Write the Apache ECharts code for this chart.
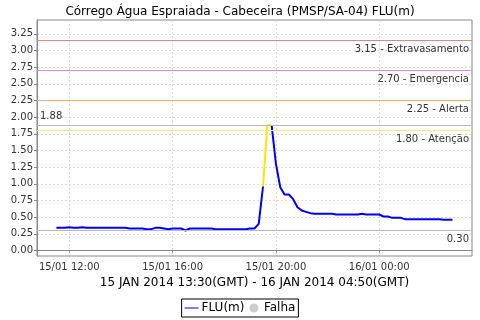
<!DOCTYPE html>
<html><head><meta charset="utf-8">
<script src="https://cdn.jsdelivr.net/npm/echarts@6/dist/echarts.min.js"></script>
<style>html,body{margin:0;padding:0;background:#fff}#c{width:480px;height:320px}</style>
</head><body><div id="c"></div>
<script>
const titleText = 'Córrego Água Espraiada - Cabeceira (PMSP/SA-04) FLU(m)';
const xAxisName = '15 JAN 2014 13:30(GMT) - 16 JAN 2014 04:50(GMT)';
const times = ['15/01 11:30','15/01 11:40','15/01 11:50','15/01 12:00','15/01 12:10','15/01 12:20','15/01 12:30','15/01 12:40','15/01 12:50','15/01 13:00','15/01 13:10','15/01 13:20','15/01 13:30','15/01 13:40','15/01 13:50','15/01 14:00','15/01 14:10','15/01 14:20','15/01 14:30','15/01 14:40','15/01 14:50','15/01 15:00','15/01 15:10','15/01 15:20','15/01 15:30','15/01 15:40','15/01 15:50','15/01 16:00','15/01 16:10','15/01 16:20','15/01 16:30','15/01 16:40','15/01 16:50','15/01 17:00','15/01 17:10','15/01 17:20','15/01 17:30','15/01 17:40','15/01 17:50','15/01 18:00','15/01 18:10','15/01 18:20','15/01 18:30','15/01 18:40','15/01 18:50','15/01 19:00','15/01 19:10','15/01 19:20','15/01 19:30','15/01 19:40','15/01 19:50','15/01 20:00','15/01 20:10','15/01 20:20','15/01 20:30','15/01 20:40','15/01 20:50','15/01 21:00','15/01 21:10','15/01 21:20','15/01 21:30','15/01 21:40','15/01 21:50','15/01 22:00','15/01 22:10','15/01 22:20','15/01 22:30','15/01 22:40','15/01 22:50','15/01 23:00','15/01 23:10','15/01 23:20','15/01 23:30','15/01 23:40','15/01 23:50','16/01 00:00','16/01 00:10','16/01 00:20','16/01 00:30','16/01 00:40','16/01 00:50','16/01 01:00','16/01 01:10','16/01 01:20','16/01 01:30','16/01 01:40','16/01 01:50','16/01 02:00','16/01 02:10','16/01 02:20','16/01 02:30','16/01 02:40','16/01 02:50'];
const fluValues = [0.34,0.34,0.34,0.35,0.34,0.34,0.35,0.34,0.34,0.34,0.34,0.34,0.34,0.34,0.34,0.34,0.34,0.33,0.33,0.33,0.33,0.32,0.32,0.34,0.34,0.33,0.32,0.33,0.33,0.33,0.30,0.33,0.33,0.33,0.33,0.33,0.33,0.32,0.32,0.32,0.32,0.32,0.32,0.32,0.32,0.33,0.33,0.40,0.96,1.88,1.88,1.30,0.95,0.84,0.84,0.77,0.65,0.60,0.58,0.56,0.55,0.55,0.55,0.55,0.55,0.54,0.54,0.54,0.54,0.54,0.54,0.55,0.54,0.54,0.54,0.54,0.51,0.51,0.49,0.49,0.49,0.47,0.47,0.47,0.47,0.47,0.47,0.47,0.47,0.47,0.46,0.46,0.46];
// failure (interpolated) points, drawn in yellow
const falhaTimes = ['15/01 19:30','15/01 19:40','15/01 19:50'];
const markerValues = [3.15, 2.70, 2.25, 1.80];
const markerNames = ['Extravasamento','Emergencia','Alerta','Atenção'];
const markerColors = ['#f08080','#e088e0','#f4a860','#ffea70'];
const maxValue = 1.88, minValue = 0.30;
const xTicks = ['15/01 12:00','15/01 16:00','15/01 20:00','16/01 00:00'];
const yTicks = [0,0.25,0.5,0.75,1,1.25,1.5,1.75,2,2.25,2.5,2.75,3,3.25];

function toH(s){const d=parseInt(s.slice(0,2),10);const h=parseInt(s.slice(6,8),10);const m=parseInt(s.slice(9,11),10);return (d-15)*24+h+m/60;}
function fmtH(v){const d=15+Math.floor(v/24+1e-9);const h=Math.round(v-(d-15)*24);return d+'/01 '+String(h).padStart(2,'0')+':00';}

const falhaSet = new Set(falhaTimes);
const blue = times.map((t,i)=>{
  const inner = falhaSet.has(t) && t!==falhaTimes[0] && t!==falhaTimes[falhaTimes.length-1];
  return [toH(t), inner ? null : fluValues[i]];
});
const yellow = times.map((t,i)=> falhaSet.has(t) ? [toH(t), fluValues[i]] : null).filter(Boolean);

const FONT = 'DejaVu Sans';
const markData = markerValues.map((v,i)=>({
  yAxis:v, lineStyle:{color:markerColors[i],width:1,type:'solid',opacity:1},
  label:{show:true,position:'insideEndBottom',formatter:v.toFixed(2)+' - '+markerNames[i],color:'#333',fontSize:10,fontFamily:FONT,distance:[3,4]}
}));
markData.push({yAxis:maxValue,lineStyle:{color:'#b8b8b8',width:1,type:'solid'},
  label:{show:true,position:'insideStartTop',formatter:maxValue.toFixed(2),color:'#333',fontSize:10,fontFamily:FONT,distance:[3,4]}});
markData.push({yAxis:minValue,lineStyle:{color:'#b8b8b8',width:1,type:'solid'},
  label:{show:true,position:'insideEndBottom',formatter:minValue.toFixed(2),color:'#333',fontSize:10,fontFamily:FONT,distance:[3,4]}});

const lineIcon = 'path://M0,0 L20,0 L20,0.01 L0,0.01 Z M0,4.4 L20,4.4 L20,5.6 L0,5.6 Z M0,9.99 L20,9.99 L20,10 L0,10 Z';

const chart = echarts.init(document.getElementById('c'),null,{renderer:'canvas'});
chart.setOption({
  animation:false,
  backgroundColor:'#fff',
  title:{text:titleText,left:'center',top:1,textStyle:{fontFamily:FONT,fontSize:12,fontWeight:'normal',color:'#000'}},
  grid:{left:37,right:8,top:20,bottom:64,show:true,borderColor:'#888',borderWidth:1},
  legend:{bottom:3,left:'center',borderColor:'#000',borderWidth:1,padding:[3,3,3,3],itemGap:5,itemWidth:14,itemHeight:9,
    textStyle:{fontFamily:FONT,fontSize:12,color:'#000',padding:[0,0,0,-2]},
    data:[{name:'FLU(m)',icon:lineIcon,itemStyle:{color:'#0000ff'}},{name:'Falha',icon:'circle',itemStyle:{color:'#c0c0c0'}}]},
  xAxis:{type:'value',min:10.75,max:27.59,
    name:xAxisName,nameLocation:'middle',nameGap:19,nameTextStyle:{fontFamily:FONT,fontSize:12,color:'#000'},
    axisLine:{lineStyle:{color:'#888'}},
    axisTick:{show:true,length:2,customValues:xTicks.map(toH),lineStyle:{color:'#888'}},
    axisLabel:{customValues:xTicks.map(toH),formatter:fmtH,fontFamily:FONT,fontSize:10,color:'#333',margin:6},
    splitLine:{show:true,lineStyle:{color:'#dcdcdc',type:[2,2]}}},
  yAxis:{type:'value',min:-0.0825,max:3.4575,
    axisLine:{show:true,lineStyle:{color:'#888'}},
    axisTick:{show:true,length:3,customValues:yTicks,lineStyle:{color:'#888'}},
    axisLabel:{customValues:yTicks,formatter:v=>v.toFixed(2),fontFamily:FONT,fontSize:10,color:'#333',margin:4},
    splitLine:{show:true,lineStyle:{color:'#dcdcdc',type:[2,2]}}},
  series:[
    {name:'FLU(m)',type:'line',data:blue,symbol:'none',connectNulls:false,color:'#0000ff',lineStyle:{color:'#0000ff',width:2},z:3,
      markLine:{silent:true,symbol:'none',z:5,data:markData}},
    {name:'FLU falha',type:'line',data:yellow,symbol:'none',color:'#ffe600',lineStyle:{color:'#ffe600',width:2},z:2},
    {name:'Falha',type:'scatter',data:[],color:'#c0c0c0'}
  ]
});
</script></body></html>
